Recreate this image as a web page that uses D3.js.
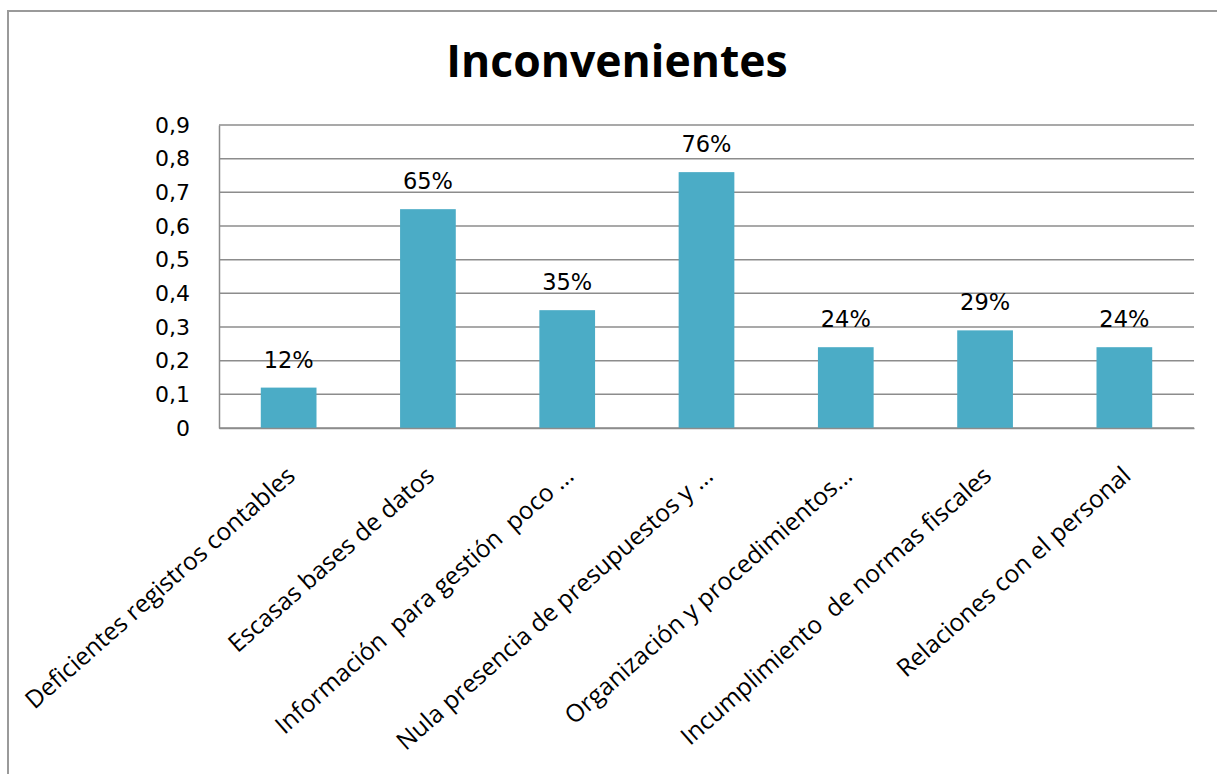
<!DOCTYPE html>
<html>
<head>
<meta charset="utf-8">
<script src="https://d3js.org/d3.v7.min.js"></script>
<style>
  body { margin: 0; background: #fff; }
</style>
</head>
<body>
<div id="container"></div>
<script>
// chart values
var categories = [
  "Deficientes registros contables",
  "Escasas bases de datos",
  "Información  para gestión  poco ...",
  "Nula presencia de presupuestos y ...",
  "Organización y procedimientos...",
  "Incumplimiento  de normas fiscales",
  "Relaciones con el personal"
];
var values = [0.12, 0.65, 0.35, 0.76, 0.24, 0.29, 0.24];
var yTicks = [0, 0.1, 0.2, 0.3, 0.4, 0.5, 0.6, 0.7, 0.8, 0.9];
var title = "Inconvenientes";

var width = 1217, height = 774;
var margin = {top: 125, right: 23, bottom: 346, left: 219};

var svg = d3.select("#container")
  .append("svg")
    .attr("width", width)
    .attr("height", height);

// outer frame (runs off the right and bottom edges)
svg.append("rect")
    .attr("x", 8).attr("y", 11)
    .attr("width", width + 10).attr("height", height + 10)
    .attr("fill", "none")
    .attr("stroke", "#9a9a9a")
    .attr("stroke-width", 2);

svg.append("text")
    .attr("x", 617).attr("y", 77)
    .attr("text-anchor", "middle")
    .attr("font-family", "'Open Sans', sans-serif")
    .attr("font-weight", "bold")
    .attr("font-size", 44.5)
    .text(title);

var x = d3.scaleBand()
    .domain(categories)
    .range([margin.left, width - margin.right])
    .paddingInner(0.6)
    .paddingOuter(0.3);

var y = d3.scaleLinear()
    .domain([0, 0.9])
    .range([height - margin.bottom, margin.top]);

// gridlines
svg.append("g")
  .selectAll("line")
  .data(yTicks)
  .join("line")
    .attr("x1", margin.left)
    .attr("x2", width - margin.right)
    .attr("y1", d => y(d))
    .attr("y2", d => y(d))
    .attr("stroke", "#8c8c8c")
    .attr("stroke-width", 1.5);

// y axis
var yAxis = svg.append("g")
    .attr("transform", `translate(${margin.left},0)`)
    .call(d3.axisLeft(y)
      .tickValues(yTicks)
      .tickSize(0)
      .tickPadding(29)
      .tickFormat(d => d === 0 ? "0" : d3.format(".1f")(d).replace(".", ",")));
yAxis.select(".domain").attr("stroke", "#8c8c8c").attr("stroke-width", 1.5);
yAxis.selectAll("text")
    .attr("font-family", "'DejaVu Sans', sans-serif")
    .attr("font-size", 22)
    .attr("fill", "#000");

// bars
svg.append("g")
  .selectAll("rect")
  .data(values)
  .join("rect")
    .attr("x", (d, i) => x(categories[i]))
    .attr("y", d => y(d))
    .attr("width", x.bandwidth())
    .attr("height", d => y(0) - y(d))
    .attr("fill", "#4BACC6");

// value labels
svg.append("g")
  .selectAll("text")
  .data(values)
  .join("text")
    .attr("x", (d, i) => x(categories[i]) + x.bandwidth() / 2)
    .attr("y", d => y(d) - 20)
    .attr("text-anchor", "middle")
    .attr("font-family", "'DejaVu Sans', sans-serif")
    .attr("font-size", 22.5)
    .text(d => d3.format(".0%")(d));

// x axis
var xAxis = svg.append("g")
    .attr("transform", `translate(0,${y(0)})`)
    .call(d3.axisBottom(x).tickSize(0).tickPadding(0));
xAxis.select(".domain").attr("stroke", "#8c8c8c").attr("stroke-width", 1.5);
xAxis.selectAll("text")
    .attr("font-family", "'Open Sans', sans-serif")
    .attr("font-size", 24.5)
    .attr("fill", "#000")
    .attr("text-anchor", "end")
    .attr("style", "white-space: pre")
    .attr("dy", 0)
    .attr("y", 0)
    .attr("transform", "translate(8,50) rotate(-41.5)");
</script>
</body>
</html>
